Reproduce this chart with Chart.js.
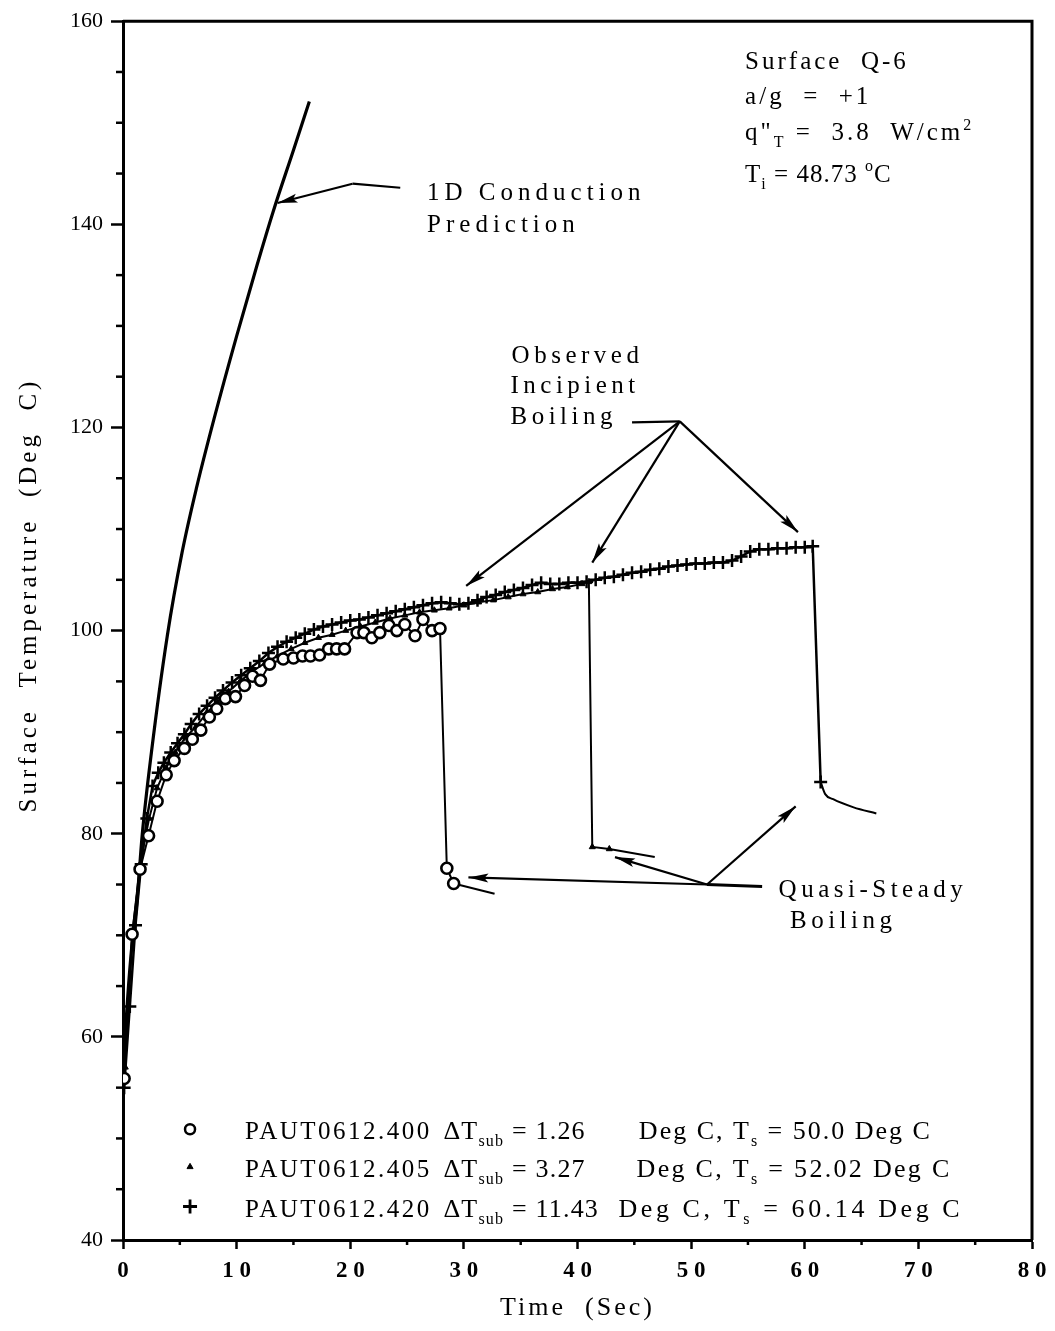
<!DOCTYPE html>
<html>
<head>
<meta charset="utf-8">
<script src="https://cdn.jsdelivr.net/npm/chart.js@4.4.1/dist/chart.umd.min.js"></script>
<style>
  html, body { margin: 0; padding: 0; background: #fff; }
</style>
</head>
<body>
<canvas id="boilingChart" width="1055" height="1331"></canvas>
<script>
// DATA ###############################################################################

// 1D conduction prediction (solid line)
var conductionTime = [0, 0.3, 0.7, 1.2, 1.7, 2.5, 3.9, 5.2, 6.5, 8.0, 10.0, 11.8, 13.2, 15.0, 16.4];
var conductionTemp = [56, 62, 68, 73, 80, 88, 99.5, 107.7, 114.2, 120.8, 129, 136, 141.2, 147.3, 152.1];

// PAUT0612.400 (circles)
var run400Time = [0.1, 0.8, 1.5, 2.25, 3.0, 3.8, 4.5, 5.4, 6.1, 6.85, 7.6, 8.25, 9.0, 9.9, 10.7, 11.4, 12.1, 12.9,
  14.1, 15.0, 15.8, 16.5, 17.3, 18.1, 18.8, 19.5, 20.6, 21.2, 21.9, 22.6, 23.4, 24.1, 24.8, 25.7, 26.4, 27.2, 27.9,
  28.5, 29.1];
var run400Temp = [55.9, 70.1, 76.5, 79.8, 83.2, 85.8, 87.2, 88.4, 89.3, 90.2, 91.5, 92.3, 93.3, 93.5, 94.6, 95.5, 95.1, 96.7,
  97.2, 97.3, 97.5, 97.5, 97.6, 98.2, 98.2, 98.2, 99.8, 99.8, 99.3, 99.8, 100.5, 100.0, 100.6, 99.5, 101.1, 100.0, 100.2,
  76.6, 75.1];
var run400TailTime = [29.1, 32.7];
var run400TailTemp = [75.1, 74.1];

// PAUT0612.405 (triangles)
var run405Time = [0.2, 0.8, 1.5, 2.3, 3.0, 3.8, 4.6, 5.5, 6.4, 7.3, 8.3, 9.3, 10.3, 11.4, 12.5, 13.6, 14.8, 16.0, 17.2,
  18.4, 19.6, 20.9, 22.2, 23.5, 24.8, 26.1, 27.4, 28.7, 30.0, 31.3, 32.6, 33.9, 35.2, 36.5, 37.8, 39.1, 40.4, 41.0,
  41.3, 42.8];
var run405Temp = [57, 70, 77, 81.5, 84.5, 86.5, 88, 89.5, 90.5, 91.8, 93, 94, 95, 96, 96.8, 97.5, 98.2, 98.8, 99.3,
  99.6, 100, 100.4, 100.8, 101.2, 101.5, 101.8, 102, 102.2, 102.5, 102.8, 103.0, 103.3, 103.6, 103.8, 104.1, 104.3, 104.6, 104.8,
  78.7, 78.5];
var run405TailTime = [42.8, 46.8];
var run405TailTemp = [78.5, 77.7];

// PAUT0612.420 (plus)
var run420Time = [0.1, 0.6, 1.1, 1.6, 2.1, 2.6, 3.1, 3.6, 4.2, 4.8, 5.4, 6.0, 6.7, 7.4, 8.1, 8.8, 9.6, 10.4, 11.2, 12.0,
  12.8, 13.6, 14.4, 15.2, 16.0, 16.8, 17.6, 18.4, 19.2, 20.0, 20.8, 21.6, 22.4, 23.2, 24.0, 24.8, 25.6, 26.4, 27.2, 28.0,
  28.8, 29.6, 30.4, 31.2, 32.0, 32.8, 33.6, 34.4, 35.2, 36.0, 36.8, 37.6, 38.4, 39.2, 40.0, 40.8, 41.6, 42.4, 43.2, 44.0,
  44.8, 45.6, 46.4, 47.2, 48.0, 48.8, 49.6, 50.4, 51.2, 52.0, 52.8, 53.6, 54.4, 55.2, 56.0, 56.8, 57.6, 58.4, 59.2, 60.0,
  60.7, 61.4];
var run420Temp = [55, 63, 71, 77, 81.5, 84.7, 86, 87, 88, 88.9, 89.8, 90.8, 91.8, 92.6, 93.4, 94.1, 94.9, 95.6, 96.3, 97,
  97.8, 98.4, 98.9, 99.3, 99.7, 100.1, 100.4, 100.6, 100.8, 101, 101.1, 101.3, 101.5, 101.7, 101.9, 102.1, 102.3, 102.5, 102.7, 102.8,
  102.7, 102.6, 102.7, 103, 103.3, 103.5, 103.8, 104.0, 104.2, 104.5, 104.7, 104.6, 104.6, 104.7, 104.7, 104.8, 105.0, 105.2, 105.3, 105.5,
  105.7, 105.8, 106.0, 106.1, 106.3, 106.4, 106.5, 106.6, 106.6, 106.7, 106.7, 106.9, 107.3, 107.8, 108.0, 108.0, 108.1, 108.1, 108.2, 108.2,
  108.3, 85.1];
var run420TailTime = [61.4, 61.8, 62.5, 64.3, 66.3];
var run420TailTemp = [85.1, 83.9, 83.4, 82.6, 82.0];

// legend texts
var runNames = ['PAUT0612.400', 'PAUT0612.405', 'PAUT0612.420'];
var deltaTsub = ['1.26', '3.27', '11.43'];
var satTemps = ['50.0', '52.02', '60.14'];

var xTitle = 'Time  (Sec)';
var yTitle = 'Surface  Temperature  (Deg  C)';

// HELPERS ############################################################################

function toPoints(xs, ys) {
    return xs.map(function(x, i) { return { x: x, y: ys[i] }; });
}

var SERIF = '"Liberation Serif", "Times New Roman", serif';

function richText(ctx, x, y, parts, size) {
    var cx = x;
    parts.forEach(function(p) {
        var txt = p[0], kind = p[1];
        var s = kind ? Math.round(size * 0.62) : size;
        var dy = kind === 'sub' ? size * 0.28 : (kind === 'sup' ? -size * 0.42 : 0);
        ctx.font = s + 'px ' + SERIF;
        ctx.fillText(txt, cx, y + dy);
        cx += ctx.measureText(txt).width;
    });
}

function arrow(ctx, x1, y1, x2, y2) {
    ctx.beginPath();
    ctx.moveTo(x1, y1);
    ctx.lineTo(x2, y2);
    ctx.stroke();
    var ang = Math.atan2(y2 - y1, x2 - x1);
    var len = 20, half = 4.5;
    ctx.save();
    ctx.translate(x2, y2);
    ctx.rotate(ang);
    ctx.beginPath();
    ctx.moveTo(0, 0);
    ctx.lineTo(-len, -half);
    ctx.lineTo(-len * 0.8, 0);
    ctx.lineTo(-len, half);
    ctx.closePath();
    ctx.fill();
    ctx.restore();
}

// DECORATION PLUGIN ##################################################################

var decorPlugin = {
    id: 'decor',
    afterDraw: function(chart) {
        var ctx = chart.ctx;
        var xs = chart.scales.x, ys = chart.scales.y;
        var a = chart.chartArea;
        function P(t, T) { return [xs.getPixelForValue(t), ys.getPixelForValue(T)]; }

        ctx.save();
        ctx.strokeStyle = '#000';
        ctx.fillStyle = '#000';

        // top and right frame
        ctx.lineWidth = 3;
        ctx.beginPath();
        ctx.moveTo(a.left, a.top);
        ctx.lineTo(a.right, a.top);
        ctx.lineTo(a.right, a.bottom);
        ctx.stroke();

        // minor ticks
        ctx.lineWidth = 2.5;
        for (var v = 45; v < 160; v += 5) {
            if (v % 20 === 0) continue;
            var yp = ys.getPixelForValue(v);
            ctx.beginPath(); ctx.moveTo(a.left, yp); ctx.lineTo(a.left - 7, yp); ctx.stroke();
        }
        for (var w = 5; w < 80; w += 10) {
            var xp = xs.getPixelForValue(w);
            ctx.beginPath(); ctx.moveTo(xp, a.bottom); ctx.lineTo(xp, a.bottom + 5); ctx.stroke();
        }

        // axis titles
        ctx.letterSpacing = '3px';
        ctx.font = '26px ' + SERIF;
        ctx.textAlign = 'center';
        ctx.textBaseline = 'alphabetic';
        ctx.fillText(xTitle, (a.left + a.right) / 2, 1315);
        ctx.save();
        ctx.translate(36, 595);
        ctx.rotate(-Math.PI / 2);
        ctx.letterSpacing = '4px';
        ctx.font = '25px ' + SERIF;
        ctx.fillText(yTitle, 0, 0);
        ctx.restore();
        ctx.textAlign = 'left';

        // 1D conduction label + arrow
        ctx.letterSpacing = '5px';
        ctx.font = '25px ' + SERIF;
        var p = P(26.76, 142.4); ctx.fillText('1D Conduction', p[0], p[1]);
        p = P(26.76, 139.2); ctx.fillText('Prediction', p[0], p[1]);
        ctx.lineWidth = 2.2;
        var c0 = P(24.4, 143.6), c1 = P(20.2, 144.0), c2 = P(13.6, 142.1);
        ctx.beginPath(); ctx.moveTo(c0[0], c0[1]); ctx.lineTo(c1[0], c1[1]); ctx.stroke();
        arrow(ctx, c1[0], c1[1], c2[0], c2[1]);

        // incipient boiling
        ctx.letterSpacing = '4.5px';
        p = P(34.2, 126.3); ctx.fillText('Observed', p[0], p[1]);
        p = P(34.1, 123.4); ctx.fillText('Incipient', p[0], p[1]);
        p = P(34.1, 120.3); ctx.fillText('Boiling', p[0], p[1]);
        var i0 = P(44.8, 120.5), i1 = P(49.0, 120.6);
        ctx.beginPath(); ctx.moveTo(i0[0], i0[1]); ctx.lineTo(i1[0], i1[1]); ctx.stroke();
        [[30.2, 104.4], [41.3, 106.7], [59.4, 109.7]].forEach(function(t) {
            var q = P(t[0], t[1]);
            arrow(ctx, i1[0], i1[1], q[0], q[1]);
        });

        // quasi-steady boiling
        p = P(57.7, 73.8); ctx.fillText('Quasi-Steady', p[0], p[1]);
        p = P(58.7, 70.7); ctx.fillText('Boiling', p[0], p[1]);
        var q0 = P(56.25, 74.8), q1 = P(51.4, 75.0);
        ctx.lineWidth = 3;
        ctx.beginPath(); ctx.moveTo(q0[0], q0[1]); ctx.lineTo(q1[0], q1[1]); ctx.stroke();
        ctx.lineWidth = 2.2;
        [[30.4, 75.7], [43.3, 77.7], [59.2, 82.7]].forEach(function(t) {
            var q = P(t[0], t[1]);
            arrow(ctx, q1[0], q1[1], q[0], q[1]);
        });

        // info box
        ctx.letterSpacing = '3px';
        ctx.font = '25px ' + SERIF;
        p = P(54.75, 155.3); ctx.fillText('Surface  Q-6', p[0], p[1]);
        p = P(54.75, 151.8); ctx.fillText('a/g  =  +1', p[0], p[1]);
        p = P(54.75, 148.3); richText(ctx, p[0], p[1], [['q"'], ['T', 'sub'], [' =  3.8  W/cm'], ['2', 'sup']], 25);
        ctx.letterSpacing = '1px';
        p = P(54.75, 144.2); richText(ctx, p[0], p[1], [['T'], ['i', 'sub'], [' = 48.73 '], ['o', 'sup'], ['C']], 25);

        // legend
        var symT = [50.9, 47.2, 43.3];
        var baseT = [49.95, 46.2, 42.3];
        var degX = [45.4, 45.2, 43.6];
        var degSpacing = ['2px', '2.3px', '3.6px'];
        var styles = [
            { pointStyle: 'circle', radius: 5, borderWidth: 2.5, fill: '#fff' },
            { pointStyle: 'triangle', radius: 3.5, borderWidth: 1, fill: '#000' },
            { pointStyle: 'cross', radius: 7, borderWidth: 2.8, fill: '#000' }
        ];
        for (var r = 0; r < 3; r++) {
            var s = P(5.9, symT[r]);
            ctx.fillStyle = styles[r].fill;
            ctx.lineWidth = styles[r].borderWidth;
            Chart.helpers.drawPoint(ctx, { pointStyle: styles[r].pointStyle, radius: styles[r].radius, rotation: 0, borderWidth: styles[r].borderWidth }, s[0], s[1]);
            ctx.fillStyle = '#000';
            ctx.letterSpacing = '2.5px';
            var b = P(10.74, baseT[r]);
            richText(ctx, b[0], b[1], [[runNames[r]]], 25);
            ctx.letterSpacing = '1.2px';
            b = P(28.2, baseT[r]);
            richText(ctx, b[0], b[1], [['\u0394T'], ['sub', 'sub'], [' = ' + deltaTsub[r]]], 26);
            ctx.letterSpacing = degSpacing[r];
            b = P(degX[r], baseT[r]);
            richText(ctx, b[0], b[1], [['Deg C, T'], ['s', 'sub'], [' = ' + satTemps[r] + ' Deg C']], 26);
        }

        ctx.restore();
    }
};

// CHART ##############################################################################

document.addEventListener('DOMContentLoaded', function() {
    var ctx = document.getElementById('boilingChart').getContext('2d');

    var lineBase = { showLine: true, borderColor: '#000', pointBorderColor: '#000', pointBackgroundColor: '#000' };

    new Chart(ctx, {
        type: 'scatter',
        data: {
            datasets: [
                Object.assign({}, lineBase, {
                    label: runNames[0], data: toPoints(run400Time, run400Temp), borderWidth: 2,
                    pointStyle: 'circle', pointRadius: 5.5, pointBorderWidth: 2.6, pointBackgroundColor: '#fff'
                }),
                Object.assign({}, lineBase, {
                    label: 'tail400', data: toPoints(run400TailTime, run400TailTemp), borderWidth: 2, pointRadius: 0
                }),
                Object.assign({}, lineBase, {
                    label: runNames[1], data: toPoints(run405Time, run405Temp), borderWidth: 2,
                    pointStyle: 'triangle', pointRadius: 3.5, pointBorderWidth: 1
                }),
                Object.assign({}, lineBase, {
                    label: 'tail405', data: toPoints(run405TailTime, run405TailTemp), borderWidth: 2, pointRadius: 0
                }),
                Object.assign({}, lineBase, {
                    label: runNames[2], data: toPoints(run420Time, run420Temp), borderWidth: 2.5,
                    pointStyle: 'cross', pointRadius: 6.5, pointBorderWidth: 2.5
                }),
                Object.assign({}, lineBase, {
                    label: 'tail420', data: toPoints(run420TailTime, run420TailTemp), borderWidth: 2, pointRadius: 0,
                    cubicInterpolationMode: 'monotone'
                }),
                Object.assign({}, lineBase, {
                    label: '1D Conduction Prediction', data: toPoints(conductionTime, conductionTemp), borderWidth: 3.2,
                    pointRadius: 0, cubicInterpolationMode: 'monotone'
                })
            ]
        },
        options: {
            responsive: false,
            animation: false,
            devicePixelRatio: 1,
            layout: { padding: { top: 21, right: 23, left: 0, bottom: 0 } },
            plugins: {
                legend: { display: false },
                tooltip: { enabled: false }
            },
            scales: {
                x: {
                    type: 'linear',
                    min: 0,
                    max: 80,
                    afterFit: function(scale) { scale.height = 91; },
                    border: { display: true, color: '#000', width: 3 },
                    grid: {
                        drawOnChartArea: false,
                        tickLength: 9,
                        tickWidth: 2.5,
                        tickColor: function(c) { return c.tick && c.tick.value % 10 === 0 ? '#000' : 'rgba(0,0,0,0)'; }
                    },
                    ticks: {
                        stepSize: 5,
                        autoSkip: false,
                        maxRotation: 0,
                        padding: 8,
                        color: '#000',
                        font: { family: SERIF, size: 23, weight: 'bold' },
                        callback: function(v) { return v % 10 === 0 ? String(v).split('').join(' ') : ''; }
                    }
                },
                y: {
                    type: 'linear',
                    min: 40,
                    max: 160,
                    afterFit: function(scale) { scale.width = 123; },
                    border: { display: true, color: '#000', width: 3 },
                    grid: {
                        drawOnChartArea: false,
                        tickLength: 12,
                        tickWidth: 2.5,
                        tickColor: function(c) { return c.tick && c.tick.value % 20 === 0 ? '#000' : 'rgba(0,0,0,0)'; }
                    },
                    ticks: {
                        stepSize: 5,
                        autoSkip: false,
                        padding: 8,
                        color: '#000',
                        font: { family: SERIF, size: 22 },
                        callback: function(v) { return v % 20 === 0 ? String(v) : ''; }
                    }
                }
            }
        },
        plugins: [decorPlugin]
    });
});
</script>
</body>
</html>
